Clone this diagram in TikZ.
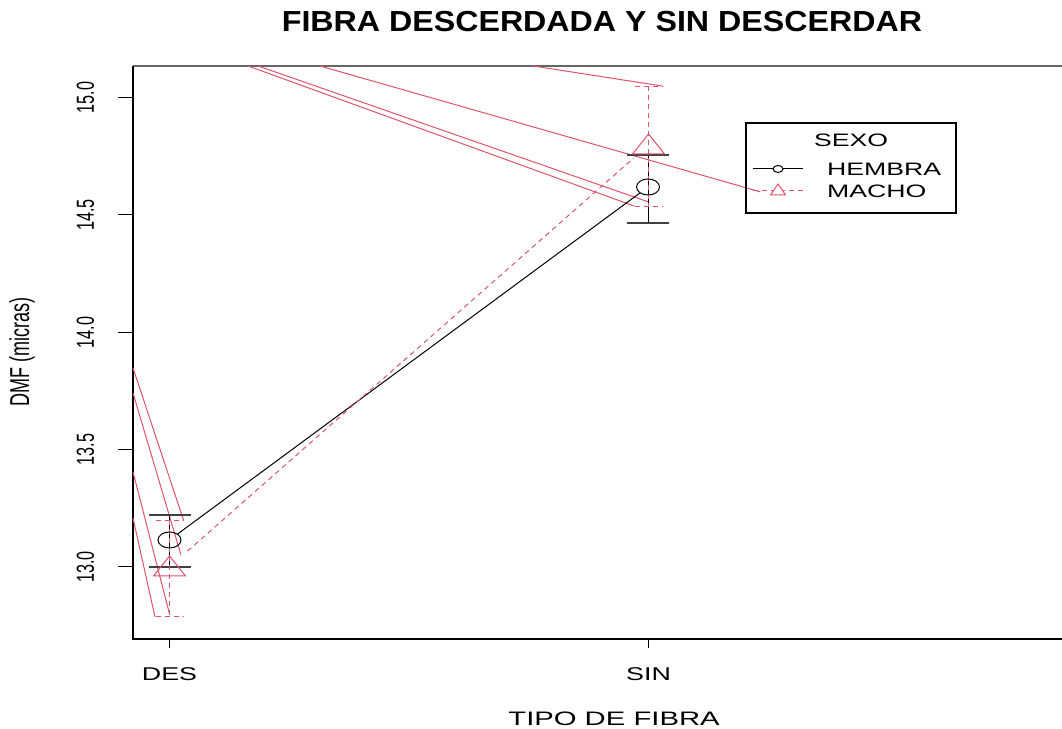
\documentclass[tikz,border=0pt]{standalone}
\usepackage{fontspec}
\setmainfont{Liberation Sans}
\usepackage{graphicx}
\usetikzlibrary{calc}
\definecolor{rosered}{HTML}{DF536B}

% stretched text, as in the R device
\newcommand{\widetext}[1]{\scalebox{1.45}[1]{#1}}
\newcommand{\tallText}[1]{\scalebox{1}[1.52]{#1}}

\tikzset{
  hembra/.style={black, line width=1pt},
  macho/.style={rosered, line width=1pt, dash pattern=on 5pt off 4pt},
  stray/.style={rosered, line width=1pt},
  capbar/.style={black!75, line width=1.2pt},
  axlab/.style={inner sep=0pt, font=\fontsize{18.5}{18.5}\selectfont},
  ticklab/.style={inner sep=0pt, rotate=90, font=\fontsize{16.2}{16.2}\selectfont},
  leglab/.style={inner sep=0pt, font=\fontsize{18}{18}\selectfont},
}

\begin{document}
\begin{tikzpicture}[x=479pt,y=234.7pt]
        \useasboundingbox (0.64614,12.314) rectangle (2.86326,15.4159);

        % Title
        \node[inner sep=0pt] (title) at (1.9029,15.322)
          {\fontsize{29}{29}\selectfont\bfseries\scalebox{1.11}[1]{FIBRA DESCERDADA Y SIN DESCERDAR}};

        % Plot frame
        \draw[black!60, line width=1.2pt] (0.9238,15.1346) -- (2.86326,15.1346);
        \draw[line width=1.2pt] (0.9238,15.1346) -- (0.9238,12.6932) -- (2.86326,12.6932);

        % Y axis
        \foreach \v [count=\i] in {13.0,13.5,14.0,14.5,15.0}{
          \draw[line width=1pt] (0.8925,\v) -- (0.9238,\v);
          \node[ticklab] (ytick\i) at (0.8246,\v) {\tallText{\v}};
        }
        \node[ticklab, font=\fontsize{18}{18}\selectfont] (ytitle) at (0.6921,13.914) {\tallText{DMF (micras)}};

        % X axis
        \foreach \k/\lab in {1/DES,2/SIN}{
          \draw[line width=1pt] (\k,12.6932) -- (\k,12.6549);
          \node[axlab] (x\lab) at (\k,12.542) {\widetext{\lab}};
        }
        \node[inner sep=0pt, font=\fontsize{19.5}{19.5}\selectfont] (xtitle) at (1.928,12.3524)
          {\scalebox{1.5}[1]{TIPO DE FIBRA}};

        % Means
        \coordinate (hdes) at (1,13.115);
        \coordinate (hsin) at (1.999,14.619);
        \coordinate (mdes) at (1,13.0);
        \coordinate (msin) at (2,14.798);

        % Stray lines
        \draw[stray] (0.9238,13.8479) -- (1.0292,13.2);
        \draw[stray] (0.9238,13.7414) -- (1.024,13.0511);
        \draw[stray] (0.9238,13.4048) -- (1,12.80);
        \draw[stray] (0.9238,13.2088) -- (0.9697,12.787);
        \draw[stray] (1.1639,15.1346) -- (1.9697,14.538);
        \draw[stray] (1.1848,15.1346) -- (2,14.5552);
        \draw[stray] (1.3142,15.1346) -- (2.2338,14.598);
        \draw[stray] (1.7589,15.1346) -- (2.0292,15.049);

        % HEMBRA error bars
        \draw[hembra] (1,13.2216) -- (1,13.0);
        \draw[capbar] ([xshift=-21pt]1,13.2216) -- ([xshift=21pt]1,13.2216);
        \draw[capbar] ([xshift=-21pt]1,13.0) -- ([xshift=21pt]1,13.0);
        \draw[hembra] (1.999,14.7554) -- (1.999,14.4657);
        \draw[capbar] ([xshift=-21pt]1.999,14.7554) -- ([xshift=21pt]1.999,14.7554);
        \draw[capbar] ([xshift=-21pt]1.999,14.4657) -- ([xshift=21pt]1.999,14.4657);

        % MACHO error bars
        \draw[macho] (1,13.2) -- (1,12.787);
        \draw[macho] ([xshift=-14pt]1,13.2) -- ([xshift=14pt]1,13.2);
        \draw[macho] ([xshift=-14pt]1,12.787) -- ([xshift=14pt]1,12.787);
        \draw[macho] (2,15.049) -- (2,14.538);
        \draw[macho] ([xshift=-14pt]2,15.049) -- ([xshift=14pt]2,15.049);
        \draw[macho] ([xshift=-14pt]2,14.538) -- ([xshift=14pt]2,14.538);

        % Profiles
        \draw[hembra, shorten <=10pt, shorten >=10pt] (hdes) -- (hsin);
        \draw[macho, shorten <=24pt, shorten >=20pt] (mdes) -- (msin);

        % Symbols
        \draw[hembra] (hdes) ellipse (11.5pt and 8pt);
        \draw[hembra] (hsin) ellipse (11.5pt and 8pt);
        \draw[rosered, line width=1pt] ([yshift=11pt]mdes) -- ([xshift=-16pt,yshift=-9pt]mdes) -- ([xshift=16pt,yshift=-9pt]mdes) -- cycle;
        \draw[rosered, line width=1pt] ([yshift=11pt]msin) -- ([xshift=-16pt,yshift=-9pt]msin) -- ([xshift=16pt,yshift=-9pt]msin) -- cycle;

        % Legend
        \draw[line width=1.2pt] (2.2035,14.8918) rectangle (2.6419,14.5083);
        \node[leglab] (sexo) at (2.4228,14.8193) {\scalebox{1.48}[1]{SEXO}};
        \draw[hembra] (2.2182,14.6958) -- (2.3225,14.6958);
        \draw[hembra, fill=white] (2.2704,14.6958) ellipse (5pt and 3.5pt);
        \node[leglab, anchor=west] (hembra) at (2.3727,14.6958) {\scalebox{1.48}[1]{HEMBRA}};
        \draw[macho] (2.2182,14.602) -- (2.3225,14.602);
        \draw[rosered, line width=1pt, fill=white] ([yshift=7pt]2.2704,14.602) -- ([xshift=-7.5pt,yshift=-4pt]2.2704,14.602) -- ([xshift=7.5pt,yshift=-4pt]2.2704,14.602) -- cycle;
        \node[leglab, anchor=west] (macho) at (2.3727,14.602) {\scalebox{1.48}[1]{MACHO}};
\end{tikzpicture}
\end{document}
